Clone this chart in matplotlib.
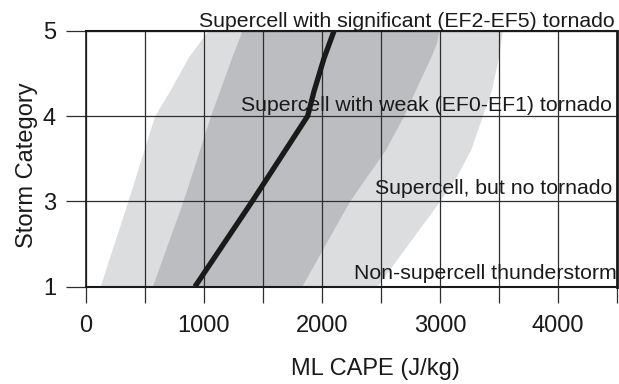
import matplotlib
matplotlib.use("Agg")
import matplotlib.pyplot as plt
from matplotlib.ticker import MultipleLocator

plt.rcParams['font.family'] = ['Liberation Sans', 'DejaVu Sans']

# Storm categories (equally spaced positions on the axis)
category_labels = ['1', '3', '4', '5']
category_pos = [0, 1, 2, 3]

# Outer (light) envelope of ML CAPE
light_left_y = [0, 1, 2, 2.29, 2.68, 3]
light_left_x = [127, 362, 589, 716, 872, 1042]
light_right_y = [0, 1, 1.3, 1.6, 2, 2.3, 2.68, 3]
light_right_x = [2472, 3004, 3150, 3265, 3365, 3440, 3500, 3534]

# Inner (dark) envelope
dark_left_y = [0, 1, 2, 2.68, 3]
dark_left_x = [569, 829, 1062, 1240, 1330]
dark_right_y = [0, 1, 1.6, 2, 2.4, 2.68, 2.85, 3]
dark_right_x = [1835, 2240, 2543, 2698, 2830, 2925, 2975, 2995]

# Median line
median_y = [0, 1, 2, 2.29, 2.68, 3]
median_x = [925, 1410, 1880, 1934, 2019, 2104]

region_labels = ['Non-supercell thunderstorm', 'Supercell, but no tornado',
                 'Supercell with weak (EF0-EF1) tornado',
                 'Supercell with significant (EF2-EF5) tornado']

fig = plt.figure(figsize=(6.19, 3.84), dpi=100)
ax = fig.add_axes([85.7/619, 1-286.7/384, (617-85.7)/619, (286.7-30.7)/384])

def polygon(lx, ly, rx, ry):
    xs = list(lx) + list(rx)[::-1]
    ys = list(ly) + list(ry)[::-1]
    return xs, ys

xs, ys = polygon(light_left_x, light_left_y, light_right_x, light_right_y)
ax.fill(xs, ys, color='#dcdddf', lw=0, zorder=1)
xs, ys = polygon(dark_left_x, dark_left_y, dark_right_x, dark_right_y)
ax.fill(xs, ys, color='#bcbdc0', lw=0, zorder=2)

ax.plot(median_x, median_y, color='#1a1a1a', lw=3.8, solid_capstyle='butt', zorder=4)

ax.set_xlim(0, 4500)
ax.set_ylim(0, 3)
ax.set_yticks(category_pos)
ax.set_yticklabels(category_labels)
ax.xaxis.set_major_locator(MultipleLocator(1000))
ax.xaxis.set_minor_locator(MultipleLocator(500))
ax.set_xticks([0, 1000, 2000, 3000, 4000])
ax.set_xticklabels(['0', '1000', '2000', '3000', '4000'])

gc = '#2e2e2e'
ax.grid(True, which='both', axis='x', color=gc, lw=0.9, zorder=3)
ax.grid(True, which='major', axis='y', color=gc, lw=0.9, zorder=3)
ax.set_axisbelow(False)

ax.tick_params(axis='x', which='both', direction='out', length=11.5, width=0.9,
               color=gc, labelsize=17, pad=9, labelcolor='#1a1a1a')
ax.tick_params(axis='y', which='major', direction='out', length=14.4, width=0.9,
               color=gc, labelsize=17, pad=7, labelcolor='#1a1a1a')

for side, lw in [('top', 1.5), ('bottom', 1.5), ('right', 2.0), ('left', 1.2)]:
    ax.spines[side].set_linewidth(lw)
    ax.spines[side].set_color('#1a1a1a')
    ax.spines[side].set_zorder(5)

label_x = [4500, 4457, 4457, 4483]
label_y = [0.087, 1.085, 2.058, 3.043]
for t, x, y in zip(region_labels, label_x, label_y):
    ax.text(x, y, t, ha='right', va='baseline', fontsize=15.3, color='#1a1a1a',
            zorder=6, clip_on=False)

fig.text(375/619, 1-375/384, 'ML CAPE (J/kg)', ha='center', va='baseline',
         fontsize=17, color='#1a1a1a')
fig.text(27.5/619, 1-165/384, 'Storm Category', ha='center', va='center',
         rotation=90, fontsize=17, color='#1a1a1a')

fig.savefig('out.png', dpi=100)
